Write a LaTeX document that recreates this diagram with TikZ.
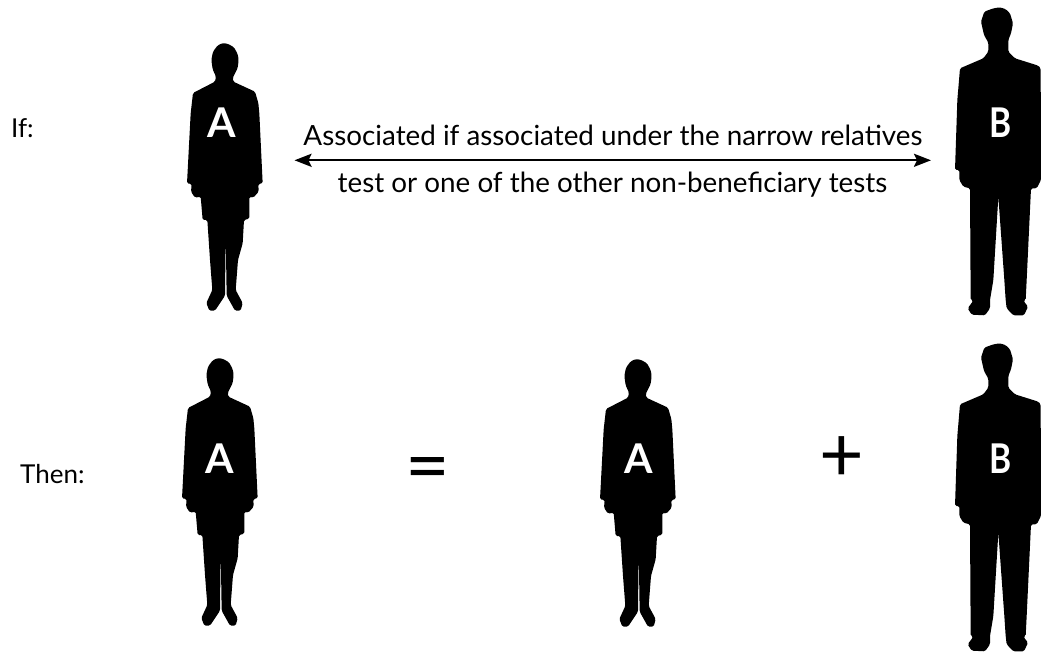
\documentclass[tikz,border=0pt]{standalone}
\usepackage{fontspec}
\setmainfont{Lato}
\usetikzlibrary{arrows.meta}
\tikzset{
 x=1pt,y=-1pt,
 lbl/.style={font=\fontsize{26}{30}\selectfont,text=black,inner sep=0pt},
 captext/.style={font=\fontsize{27.8}{32}\selectfont,text=black,inner sep=0pt},
 letter/.style={font=\fontsize{41}{44}\selectfont\bfseries,text=white,inner sep=0pt},
 narrowb/.style={xscale=.82,transform shape},
 sym/.style={font=\fontsize{77}{80}\selectfont,text=black,inner sep=0pt},
 sil/.style={fill=black,draw=none,rounded corners=1.5pt},
 link/.style={draw=black,line width=2.4pt,{Stealth[length=17pt,width=13pt,inset=3pt]}-{Stealth[length=17pt,width=13pt,inset=3pt]}},
 personA/.pic={
  \path[sil,xscale=1/3,yscale=1/3] (159,39)--(175,42)--(192,52)--(203,72)--(206,90)--(203,114)--(188,144)--(190,155)--(255,185)--(265,219)--(268,250)--(278,460)--(265,462)--(266,485)--(250,503)--(238,500)--(238,566)--(222,570)--(218,640)--(204,690)--(197,780)--(218,819)--(212,842)--(195,842)--(170,797)--(167,610)--(165,797)--(135,842)--(118,842)--(109,819)--(127,780)--(120,690)--(112,570)--(98,570)--(92,500)--(75,503)--(63,485)--(65,462)--(51,460)--(62,250)--(69,189)--(135,155)--(138,140)--(128,118)--(124,90)--(129,65)--(143,46)--cycle;
 },
 personB/.pic={
  \path[sil,xscale=1/3,yscale=1/3] (210,22)--(228,28)--(240,40)--(249,70)--(243,100)--(235,120)--(235,155)--(255,175)--(325,197)--(332,205)--(333,540)--(320,565)--(303,565)--(290,840)--(287,900)--(280,902)--(294,920)--(282,946)--(250,946)--(230,925)--(227,900)--(223,840)--(205,590)--(190,840)--(180,900)--(180,925)--(165,946)--(125,944)--(113,925)--(130,902)--(122,900)--(120,565)--(100,560)--(88,540)--(88,510)--(75,510)--(82,300)--(90,205)--(160,175)--(175,155)--(175,128)--(162,105)--(153,65)--(163,35)--(190,25)--cycle;
 }
}
\begin{document}
\begin{tikzpicture}
\useasboundingbox (0,0) rectangle (1041,652);
\pic at (170,30) {personA};
\pic at (930,0) {personB};
\pic at (165,345) {personA};
\pic at (583,346) {personA};
\pic at (930,336) {personB};
\node[letter] (a1) at (221.5,123) {A};
\node[letter,narrowb] (b1) at (1001,123) {B};
\node[letter] (a2) at (220,459) {A};
\node[letter] (a3) at (638.5,459) {A};
\node[letter,narrowb] (b2) at (1001,459) {B};
\node[lbl,anchor=base west] (ifl) at (11,138) {If:};
\node[lbl,anchor=base west] (thenl) at (20,483) {Then:};
\coordinate (ll) at (294.5,160.3);
\coordinate (lr) at (931,160.3);
\draw[link] (ll) -- (lr);
\node[captext,anchor=base] (t1) at (613,146) {Associated if associated under the narrow relatives};
\node[captext,anchor=base] (t2) at (612.5,193) {test or one of the other non-beneficiary tests};
\node[sym] (eq) at (427.5,475) {=};
\node[sym] (pl) at (842,459.5) {+};
\end{tikzpicture}
\end{document}
